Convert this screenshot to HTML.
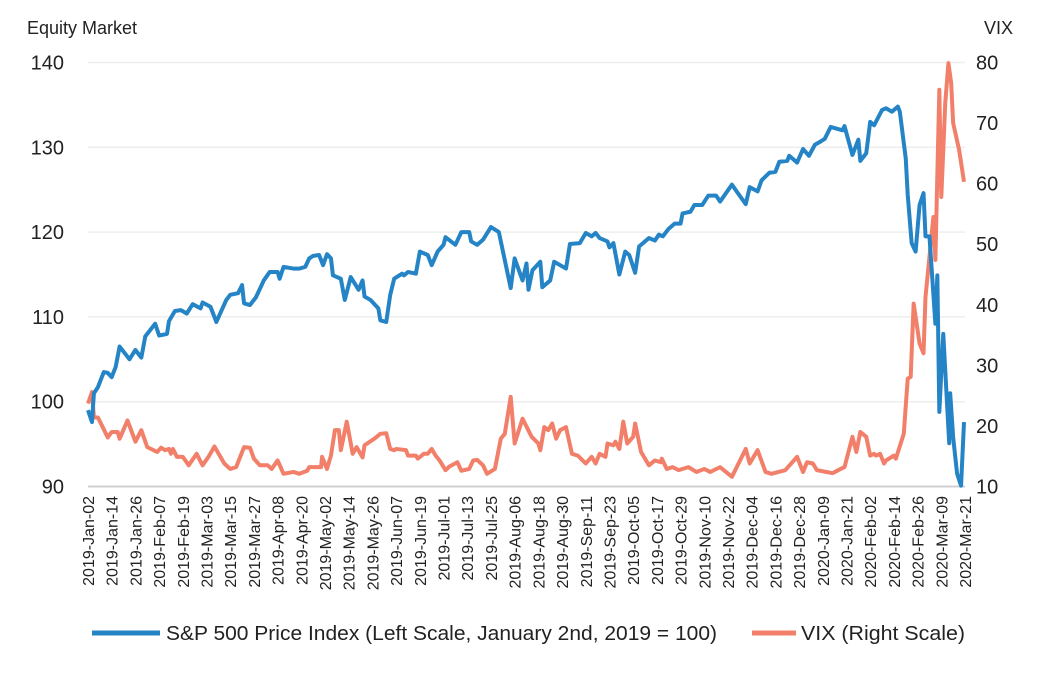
<!DOCTYPE html>
<html><head><meta charset="utf-8"><style>
body{margin:0;background:#fff;font-family:"Liberation Sans",sans-serif;}
svg text{font-family:"Liberation Sans",sans-serif;}
</style></head><body>
<svg id="chart" width="1052" height="668" xmlns="http://www.w3.org/2000/svg">
<text x="27" y="34" font-size="18" fill="#222">Equity Market</text>
<text x="1013" y="34" font-size="18" fill="#222" text-anchor="end">VIX</text>
<g id="grid"></g><g id="xlabels"></g><g id="series"></g>
<g>
<line x1="92" y1="633" x2="160" y2="633" stroke="#2484c5" stroke-width="5"/>
<text x="166" y="640" font-size="20" fill="#222" textLength="551" lengthAdjust="spacingAndGlyphs">S&amp;P 500 Price Index (Left Scale, January 2nd, 2019 = 100)</text>
<line x1="752" y1="633" x2="796" y2="633" stroke="#f27f69" stroke-width="5"/>
<text x="801" y="640" font-size="20" fill="#222" textLength="164" lengthAdjust="spacingAndGlyphs">VIX (Right Scale)</text>
</g>
</svg>
<script>
const leftTicks=[90,100,110,120,130,140];
const rightTicks=[10,20,30,40,50,60,70,80];
const xTickLabels=["2019-Jan-02","2019-Jan-14","2019-Jan-26","2019-Feb-07","2019-Feb-19","2019-Mar-03","2019-Mar-15","2019-Mar-27","2019-Apr-08","2019-Apr-20","2019-May-02","2019-May-14","2019-May-26","2019-Jun-07","2019-Jun-19","2019-Jul-01","2019-Jul-13","2019-Jul-25","2019-Aug-06","2019-Aug-18","2019-Aug-30","2019-Sep-11","2019-Sep-23","2019-Oct-05","2019-Oct-17","2019-Oct-29","2019-Nov-10","2019-Nov-22","2019-Dec-04","2019-Dec-16","2019-Dec-28","2020-Jan-09","2020-Jan-21","2020-Feb-02","2020-Feb-14","2020-Feb-26","2020-Mar-09","2020-Mar-21"];
const spDays=[0,2,3,5,8,10,12,14,16,21,24,27,29,34,36,40,41,44,47,50,53,57,58,62,65,70,72,76,78,79,82,85,89,92,96,97,99,104,107,110,112,114,117,119,121,123,124,128,130,133,137,139,140,143,147,148,151,153,155,159,160,162,166,168,172,174,177,180,181,186,189,193,194,197,200,204,208,214,216,220,222,223,225,229,230,234,236,242,244,249,252,255,257,259,263,264,266,269,272,274,277,279,284,287,289,291,294,297,300,301,305,307,311,314,318,320,326,329,333,335,339,341,345,348,350,354,355,359,362,365,368,371,373,376,382,383,387,390,391,394,396,398,402,404,407,410,411,414,415,417,419,421,423,424,426,429,430,431,433,436,436.5,438,440,442,443.5];
const spValues=[99.0,97.6,101.0,101.7,103.5,103.4,102.9,104.1,106.5,105.0,106.1,105.2,107.7,109.2,107.8,108.0,109.5,110.7,110.8,110.4,111.5,111.0,111.7,111.2,109.4,112.0,112.6,112.8,113.75,111.6,111.4,112.3,114.3,115.3,115.3,114.5,115.9,115.7,115.7,115.9,116.9,117.2,117.3,116.1,117.4,116.9,114.9,114.5,112.0,114.7,113.2,114.3,112.4,112.0,111.0,109.6,109.4,112.6,114.5,115.1,114.9,115.3,115.1,117.7,117.3,116.1,117.7,118.5,119.4,118.5,120.0,120.0,118.9,118.5,119.1,120.6,120.0,113.4,116.9,114.3,116.3,113.2,115.5,116.5,113.5,114.3,116.5,115.7,118.6,118.7,119.9,119.5,119.9,119.3,118.9,118.2,118.7,115.0,117.7,117.3,115.2,118.3,119.3,119.0,119.7,119.5,120.4,121.0,121.0,122.2,122.4,123.2,123.2,124.3,124.3,123.6,125.6,124.6,123.3,125.3,124.8,126.1,127.0,127.1,128.3,128.4,129.0,128.2,129.8,129.0,130.3,130.7,131.0,132.4,132.0,132.5,129.1,130.9,128.4,129.3,133.0,132.6,134.4,134.6,134.2,134.8,134.2,128.7,124.4,118.7,117.7,123.2,124.6,119.5,119.5,109.2,114.9,98.8,108.0,95.1,101.0,95.8,91.5,90.1,97.6];
const vixDays=[0,2,3,5,7,10,12,15,16,20,24,27,30,35,37,39,41,42,43,45,48,51,55,58,61,64,69,72,75,79,82,84,87,91,93,96,99,104,107,111,112,118,118.5,121,123,125,127,128,131,134,136,139,140,145,148,151,153,155,156,161,162,166,167,170,172,174,176,178,181,183,187,189,193,195,197,200,202,206,209,211,214,216,220,224.6,228,229,231,233,235,237,239,242,245,248,252,255,257,259,262,263,266,267,269,271,273,276,277,280,284,287,290,290.5,293,296,299,304,308,312,315,320,326,333,335,339,343,346,353,359,362,364,367,369,377,381,383,387,389,391,394,396,398,399,401,403,404,408,409,413,415,416.5,418,421,423,424,428,429,431,432,434,435.6,437,438,441,443.5];
const vixValues=[23.7,25.6,21.4,21.4,20.1,18.1,19.0,19.0,17.9,20.9,17.4,19.3,16.5,15.7,16.4,16.0,16.2,15.4,16.2,14.9,14.9,13.5,15.4,13.5,14.9,16.6,13.8,12.9,13.2,16.5,16.4,14.6,13.5,13.5,12.9,14.3,12.1,12.4,12.1,12.6,13.2,13.2,14.9,12.9,15.1,19.3,19.3,16.0,20.7,15.4,16.5,14.8,16.8,17.9,18.7,18.8,16.2,16.0,16.2,16.0,15.1,15.1,14.6,15.4,15.4,16.2,15.1,14.3,12.7,13.3,14.0,12.6,12.9,14.3,14.4,13.5,12.1,12.9,17.9,18.7,24.8,17.1,21.2,18.2,17.1,16.0,19.8,19.3,20.4,17.9,19.3,19.8,15.4,15.1,13.8,14.9,13.8,15.4,14.9,17.1,16.8,17.4,16.2,20.7,17.1,18.2,20.4,15.7,13.5,14.3,14.0,14.6,12.9,13.2,12.7,13.2,12.4,12.9,12.4,13.2,11.6,16.2,13.8,16.0,12.4,12.1,12.7,14.9,12.4,14.0,13.8,12.7,12.2,12.9,13.2,18.2,15.7,19.0,18.2,15.1,15.4,15.1,15.4,13.8,14.3,15.1,14.6,18.7,27.8,28.1,40.2,33.6,32.0,41.3,54.5,47.4,75.5,57.8,73.3,79.9,76.6,70.0,65.6,60.3];

const X0=88,X1=965,YT=62.5,YB=486.5,DAYS=444;
const NS="http://www.w3.org/2000/svg";
function xs(d){return X0+(X1-X0)*d/DAYS;}
function yL(v){return YB-(v-90)/50*(YB-YT);}
function yR(v){return YB-(v-10)/70*(YB-YT);}
function mk(tag,attrs,parent){const e=document.createElementNS(NS,tag);for(const k in attrs)e.setAttribute(k,attrs[k]);parent.appendChild(e);return e;}
const grid=document.getElementById('grid');
leftTicks.forEach(v=>{
  const l=mk('line',{x1:X0,x2:X1,y1:yL(v),y2:yL(v),stroke:v===90?'#d0d0d0':'#eeeeee','stroke-width':v===90?2:1.5},grid);
  
  
  const t=mk('text',{x:64,y:yL(v)+7,'font-size':20,'text-anchor':'end',fill:'#222'},grid);
  t.textContent=v;
  
  
});
rightTicks.forEach(v=>{
  const t=mk('text',{x:976,y:yR(v)+7,'font-size':20,fill:'#222'},grid);
  t.textContent=v;
  
  
});
const xl=document.getElementById('xlabels');
xTickLabels.forEach((s,i)=>{
  const x=xs(i*12)+6;
  const t=mk('text',{x:0,y:0,'font-size':16,'text-anchor':'end',fill:'#222',transform:`translate(${x},496) rotate(-90)`},xl);
  t.textContent=s;
  
  
});
const sg=document.getElementById('series');
const vp=mk('polyline',{points:vixDays.map((d,i)=>xs(d)+','+yR(vixValues[i])).join(' '),fill:'none',stroke:'#f27f69','stroke-width':4,'stroke-linejoin':'round'},sg);


const sp=mk('polyline',{points:spDays.map((d,i)=>xs(d)+','+yL(spValues[i])).join(' '),fill:'none',stroke:'#2484c5','stroke-width':4,'stroke-linejoin':'round'},sg);


</script>
</body></html>
